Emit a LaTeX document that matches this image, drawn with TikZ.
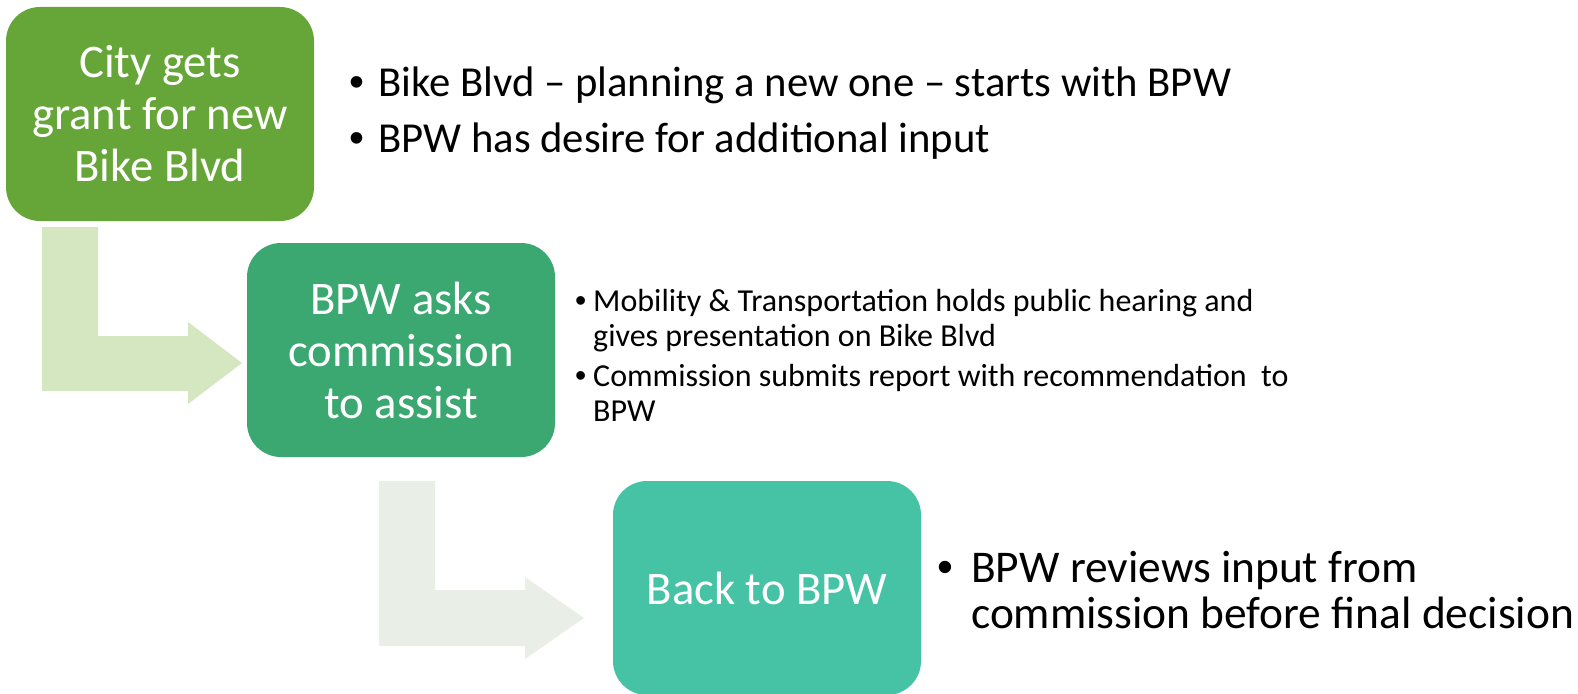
\documentclass[tikz,border=0pt]{standalone}
\usepackage{fontspec}
\setmainfont{Carlito}
\newfontfamily\bulletfont{Liberation Sans}
\definecolor{boxA}{HTML}{66A638}
\definecolor{boxB}{HTML}{3AA870}
\definecolor{boxC}{HTML}{46C2A5}
\definecolor{arrA}{HTML}{D5E7C0}
\definecolor{arrB}{HTML}{E9EEE6}
\newcommand{\bitem}[2]{\par\hangindent=#1\hangafter=1\noindent\makebox[#1][l]{\bulletfont •}#2}
\begin{document}
\begin{tikzpicture}[x=1pt,y=-1pt,
  stepbox/.style={rounded corners=34pt, text=white, align=center, inner sep=0pt,
    minimum width=308pt, minimum height=214pt, font=\fontsize{46.7}{52}\selectfont},
  bullets/.style={anchor=base west, inner sep=0pt, text=black}
]
\useasboundingbox (0,0) rectangle (1578,693);
% bent arrows
\fill[arrA] (42,227) -- (98,227) -- (98,336) -- (188,336) -- (188,322) -- (242,363)
  -- (188,404) -- (188,391) -- (42,391) -- cycle;
\fill[arrB] (379,481) -- (435,481) -- (435,590) -- (525,590) -- (525,577) -- (584,618)
  -- (525,659) -- (525,646) -- (379,646) -- cycle;
% boxes
\node[stepbox, fill=boxA] (b1) at (160,114) {City gets\\grant for new\\Bike Blvd};
\node[stepbox, fill=boxB] (b2) at (401,350) {BPW asks\\commission\\to assist};
\node[stepbox, fill=boxC] (b3) at (767,588) {Back to BPW};
% bullet lists
\node[bullets] (l1) at (349,96) {\parbox[t]{1100pt}{\fontsize{42.7}{56}\selectfont
  \bitem{29pt}{Bike Blvd – planning a new one – starts with BPW}
  \bitem{29pt}{BPW has desire for additional input}}};
\node[bullets] (l2) at (575,311) {\parbox[t]{800pt}{\fontsize{32}{35}\selectfont\parskip=5pt
  \bitem{18pt}{Mobility \& Transportation holds public hearing and\newline gives presentation on Bike Blvd}
  \bitem{18pt}{Commission submits report with recommendation~ to\newline BPW}}};
\node[bullets] (l3) at (937,582) {\parbox[t]{700pt}{\fontsize{45.4}{46}\selectfont
  \bitem{34pt}{BPW reviews input from\newline commission before final decision}}};
\end{tikzpicture}
\end{document}
